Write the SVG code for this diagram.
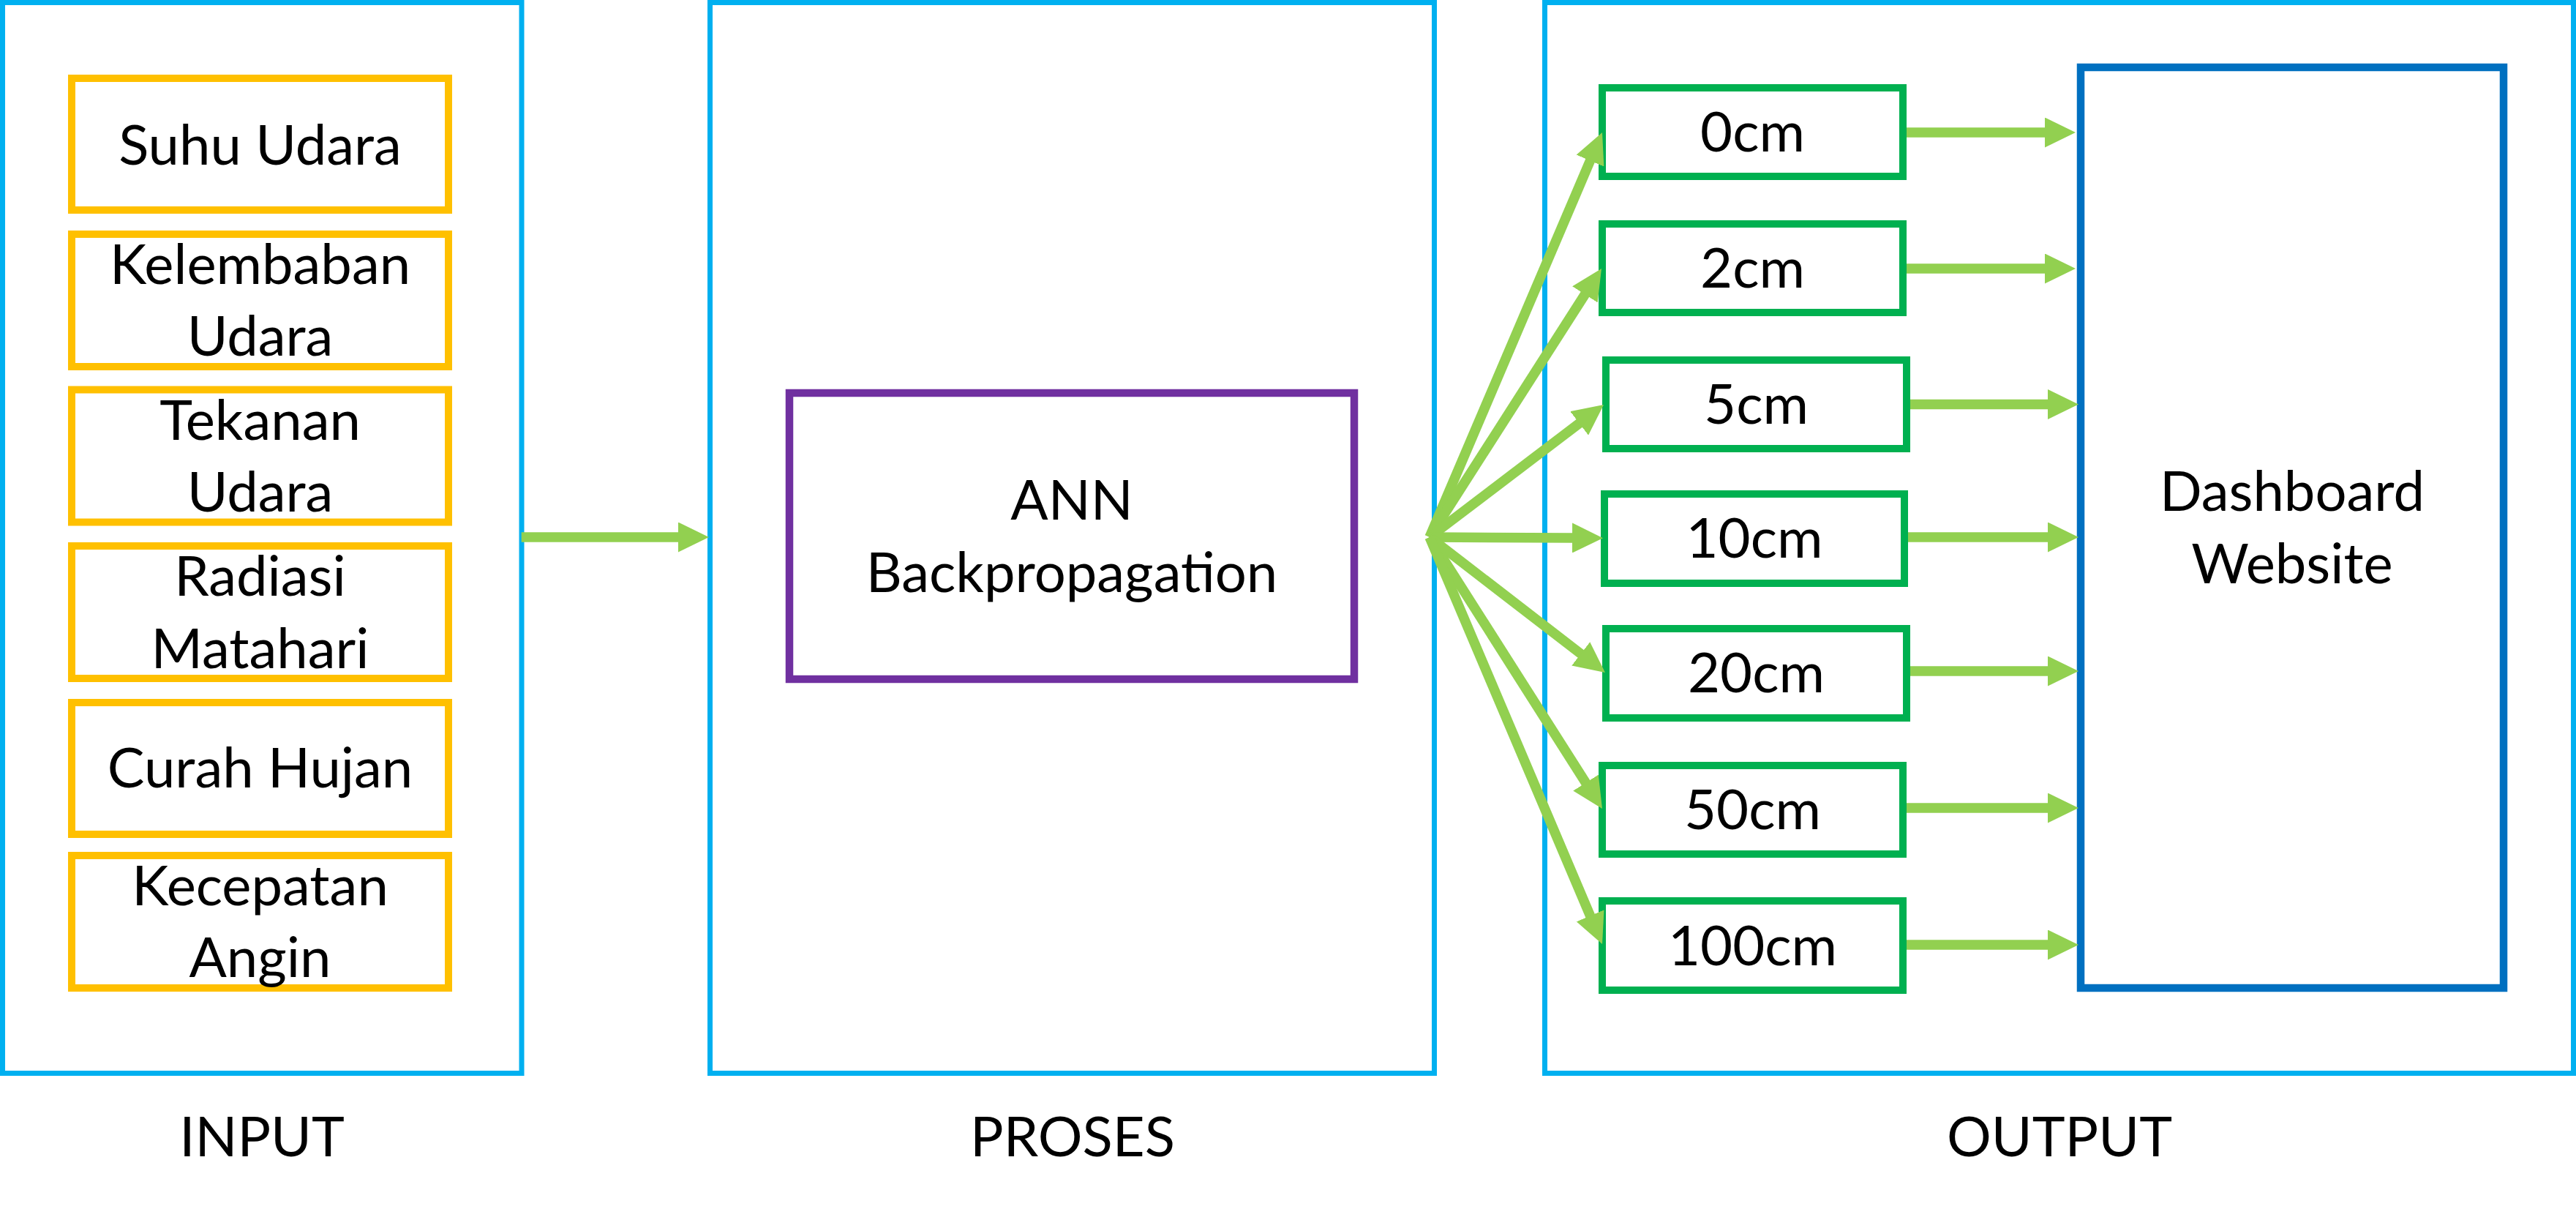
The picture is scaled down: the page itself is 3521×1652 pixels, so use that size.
<svg xmlns="http://www.w3.org/2000/svg" width="3521" height="1652" viewBox="0 0 3521 1652">
<style>
.panel{fill:none;stroke:#00B0F0;stroke-width:7}
.inbox{fill:#fff;stroke:#FFC000;stroke-width:10}
.ann{fill:#fff;stroke:#7030A0;stroke-width:10.5}
.outbox{fill:#fff;stroke:#00B050;stroke-width:10}
.dash{fill:#fff;stroke:#0070C0;stroke-width:10.5}
.t{font-family:Lato,"Open Sans","Liberation Sans",sans-serif;font-size:76px;fill:#000;text-anchor:middle}
.conn line{stroke:#92D050;stroke-width:13.5;fill:none;marker-end:url(#ah)}
</style>
<defs>
<marker id="ah" markerUnits="userSpaceOnUse" markerWidth="42" markerHeight="41" viewBox="0 0 42 41" refX="1" refY="20.5" orient="auto">
<path d="M0,0 L42,20.5 L0,41 z" fill="#92D050"/>
</marker>
</defs>
<rect width="3521" height="1652" fill="#fff"/>
<g id="panel-input">
<rect class="panel" x="3.5" y="3.5" width="709.5" height="1463"/>
<text class="t" x="358" y="1580">INPUT</text>
</g>
<g id="panel-proses">
<rect class="panel" x="970.5" y="3.5" width="990" height="1463"/>
<text class="t" x="1466" y="1580">PROSES</text>
</g>
<g id="panel-output">
<rect class="panel" x="2111.5" y="3.5" width="1406" height="1463"/>
<text class="t" x="2815" y="1580">OUTPUT</text>
</g>
<g id="in-suhu"><rect class="inbox" x="98" y="107" width="515" height="180"/><text class="t" x="355.5" y="225">Suhu Udara</text></g>
<g id="in-kelembaban"><rect class="inbox" x="98" y="320" width="515" height="181"/><text class="t" x="355.5" y="387.5">Kelembaban</text><text class="t" x="355.5" y="486">Udara</text></g>
<g id="in-tekanan"><rect class="inbox" x="98" y="532.5" width="515" height="181"/><text class="t" x="355.5" y="601">Tekanan</text><text class="t" x="355.5" y="699">Udara</text></g>
<g id="in-radiasi"><rect class="inbox" x="98" y="746" width="515" height="181"/><text class="t" x="355.5" y="814">Radiasi</text><text class="t" x="355.5" y="913">Matahari</text></g>
<g id="in-curah"><rect class="inbox" x="98" y="960" width="515" height="180"/><text class="t" x="355.5" y="1076">Curah Hujan</text></g>
<g id="in-kecepatan"><rect class="inbox" x="98" y="1169" width="515" height="181"/><text class="t" x="355.5" y="1237">Kecepatan</text><text class="t" x="355.5" y="1335">Angin</text></g>
<g id="ann"><rect class="ann" x="1079" y="537" width="772" height="391"/><text class="t" x="1465" y="710">ANN</text><text class="t" x="1465" y="809">Backpropagation</text></g>
<g id="out-0"><rect class="outbox" x="2190" y="120" width="411" height="121"/><text class="t" x="2395.5" y="207">0cm</text></g>
<g id="out-2"><rect class="outbox" x="2190" y="306" width="411" height="121"/><text class="t" x="2395.5" y="393">2cm</text></g>
<g id="out-5"><rect class="outbox" x="2195" y="492" width="411" height="121"/><text class="t" x="2400.5" y="579">5cm</text></g>
<g id="out-10"><rect class="outbox" x="2193" y="675" width="410" height="122"/><text class="t" x="2398" y="762">10cm</text></g>
<g id="out-20"><rect class="outbox" x="2195" y="859" width="411" height="122"/><text class="t" x="2400.5" y="946">20cm</text></g>
<g id="out-50"><rect class="outbox" x="2190" y="1046" width="411" height="121"/><text class="t" x="2395.5" y="1133">50cm</text></g>
<g id="out-100"><rect class="outbox" x="2190" y="1231" width="411" height="122"/><text class="t" x="2395.5" y="1319">100cm</text></g>
<g id="dashboard"><rect class="dash" x="2844" y="92" width="578" height="1258"/><text class="t" x="3133" y="698">Dashboard</text><text class="t" x="3133" y="797">Website</text></g>
<g id="connectors" class="conn">
<line x1="712.7" y1="734" x2="928" y2="734"/>
<line x1="1954" y1="734" x2="2173.9" y2="218.7"/>
<line x1="1954" y1="734" x2="2166.9" y2="401.5"/>
<line x1="1954" y1="734" x2="2159.4" y2="577.8"/>
<line x1="1954" y1="734" x2="2150" y2="735"/>
<line x1="1954" y1="734" x2="2161.5" y2="894"/>
<line x1="1954" y1="734" x2="2168" y2="1070.4"/>
<line x1="1954" y1="734" x2="2174" y2="1252.3"/>
<line x1="2606" y1="181" x2="2796" y2="181"/>
<line x1="2606" y1="367" x2="2796" y2="367"/>
<line x1="2611" y1="552.5" x2="2800" y2="552.5"/>
<line x1="2608" y1="734" x2="2800" y2="734"/>
<line x1="2611" y1="917" x2="2800" y2="917"/>
<line x1="2606" y1="1104" x2="2800" y2="1104"/>
<line x1="2606" y1="1291" x2="2800" y2="1291"/>
</g>
</svg>
